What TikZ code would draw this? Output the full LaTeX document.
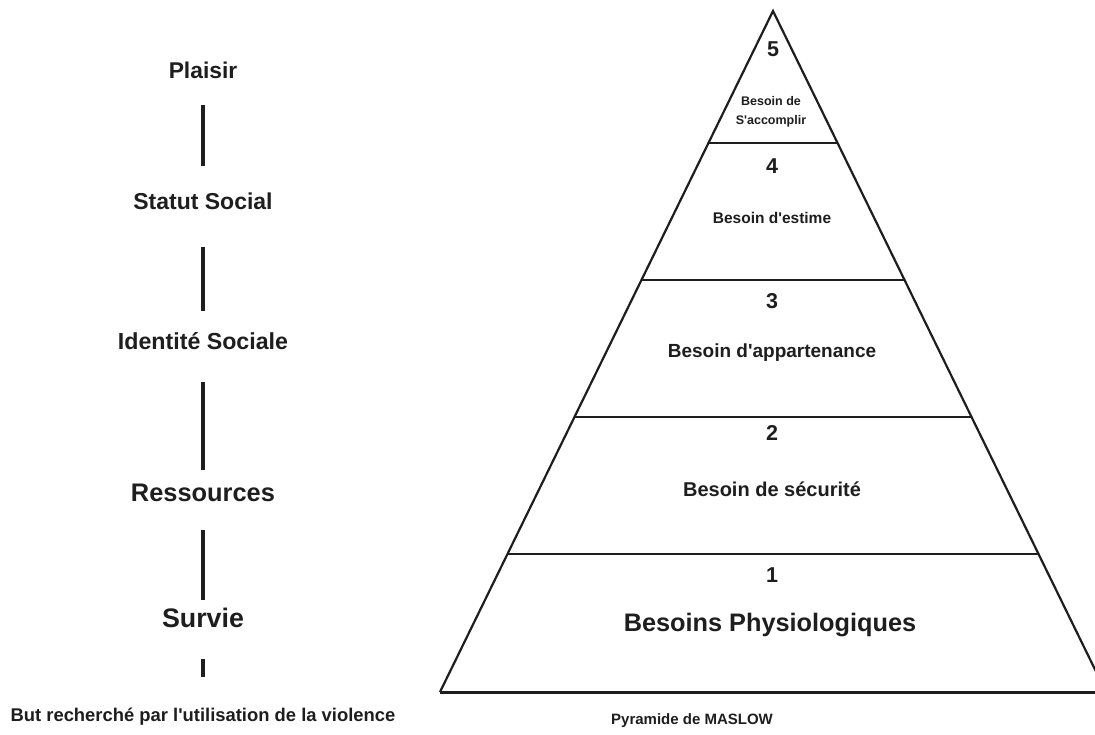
\documentclass[tikz,border=0pt]{standalone}
\usepackage{fontspec}
\setmainfont[Ligatures=TeXOff]{Liberation Sans}
\usetikzlibrary{calc}
\definecolor{ink}{HTML}{1E1E1E}
\tikzset{
  lbl/.style={inner sep=0pt, text height=0.716em, text depth=0pt, anchor=center, text=ink},
  fs/.style={font=\bfseries\fontsize{#1}{#1}\selectfont},
  vline/.style={draw=ink, line width=3.5pt},
  pyr/.style={draw=ink, line width=2.2pt, line join=miter},
  pbase/.style={draw=ink, line width=3pt},
}
\begin{document}
\begin{tikzpicture}[x=1pt,y=-1pt]
\path[use as bounding box] (0,0) rectangle (1095,735);
\clip (0,0) rectangle (1095,735);
\fill[white] (0,0) rectangle (1095,735);

% left column
\node[lbl, fs=22.8] (plaisir) at (203,74.5) {Plaisir};
\node[lbl, fs=23] (statut) at (203,206) {Statut Social};
\node[lbl, fs=23.2] (identite) at (203,346) {Identité Sociale};
\node[lbl, fs=25.4] (ressources) at (203,498) {Ressources};
\node[lbl, fs=26.8] (survie) at (203,624) {Survie};
\node[lbl, fs=18.4] (but) at (203,717.5) {But recherché par l'utilisation de la violence};

\draw[vline, shorten <=30.5pt, shorten >=40pt] (plaisir.center) -- (statut.center);
\draw[vline, shorten <=41pt, shorten >=35pt] (statut.center) -- (identite.center);
\draw[vline, shorten <=36pt, shorten >=28pt] (identite.center) -- (ressources.center);
\draw[vline, shorten <=32pt, shorten >=24pt] (ressources.center) -- (survie.center);
\draw[vline, shorten <=35pt, shorten >=41pt] (survie.center) -- (but.center);

% pyramid
\coordinate (apex) at (773,11);
\coordinate (bl) at (440,692);
\coordinate (br) at (1106,692);
\draw[pyr] (bl) -- (apex) -- (br);
\draw[pbase] (bl) -- (1100,692);
\foreach \t in {0.1938,0.3950,0.5962,0.7974}{
  \draw[pyr] ($(apex)!\t!(bl)$) -- ($(apex)!\t!(br)$);
}

\node[lbl, fs=21.5] (n5) at (773,52.5) {5};
\node[lbl, fs=12.5] (acc1) at (771,102) {Besoin de};
\node[lbl, fs=12.5] (acc2) at (771,120.5) {S'accomplir};

\node[lbl, fs=21.5] (n4) at (772,169.5) {4};
\node[lbl, fs=15.5] (estime) at (772,219.5) {Besoin d'estime};

\node[lbl, fs=21.5] (n3) at (772,304.5) {3};
\node[lbl, fs=19] (appart) at (772,353.5) {Besoin d'appartenance};

\node[lbl, fs=21.5] (n2) at (772,436.5) {2};
\node[lbl, fs=20] (secu) at (772,492.5) {Besoin de sécurité};

\node[lbl, fs=21.5] (n1) at (772,578.5) {1};
\node[lbl, fs=25.3] (physio) at (770,628) {Besoins Physiologiques};

\node[lbl, fs=15] (maslow) at (692,721) {Pyramide de MASLOW};
\end{tikzpicture}
\end{document}
